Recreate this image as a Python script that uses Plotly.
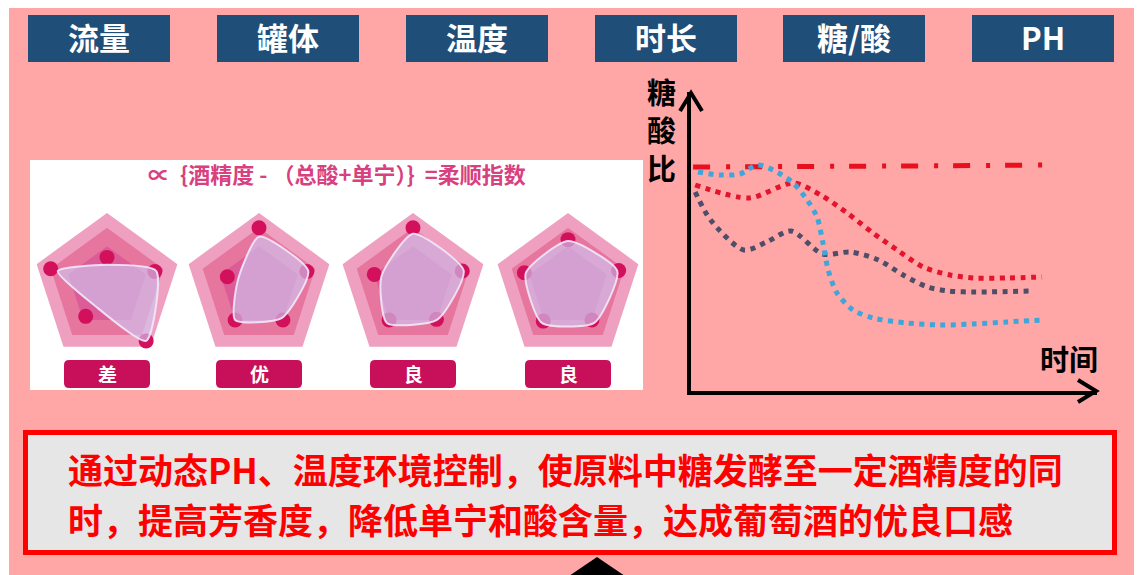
import plotly.graph_objects as go

# page body has an 8px margin: figure covers page pixels 8..1142 x 8..575
OFF = 8
W, H = 1142 - OFF, 575 - OFF
FONT = "Noto Sans CJK SC"

# ---------------- data ----------------
top_labels = ["流量", "罐体", "温度", "时长", "糖/酸", "PH"]
formula_text = "∝  {酒精度 - （总酸+单宁）}  =柔顺指数"
radar_axes = ["v1", "v2", "v3", "v4", "v5"]
radar_grades = ["差", "优", "良", "良"]
radar_overlay = [
    [0.30, 0.70, 0.90, 0.30, 0.70],
    [0.68, 0.70, 0.52, 0.55, 0.30],
    [0.72, 0.72, 0.55, 0.60, 0.45],
    [0.62, 0.70, 0.60, 0.60, 0.60],
]
radar_dots = [
    [0.40, 0.68, 0.90, 0.49, 0.80],
    [0.80, 0.68, 0.55, 0.55, 0.45],
    [0.80, 0.70, 0.54, 0.55, 0.55],
    [0.64, 0.72, 0.55, 0.57, 0.62],
]
ring_levels = [0.80, 0.55]

t_dashdot = [0, 2, 4, 6, 8, 10]
ratio_dashdot = [11.2, 11.2, 11.22, 11.25, 11.27, 11.3]

t_red = [0.06, 1.6, 2.86, 3.69, 4.4, 5.14, 5.83, 6.57, 7.34, 8.0, 8.97, 9.97]
ratio_red = [10.3, 9.65, 10.4, 9.75, 8.9, 7.9, 7.05, 6.2, 5.8, 5.65, 5.65, 5.7]

t_dark = [0.06, 0.5, 1.45, 2.1, 2.8, 3.7, 4.5, 5.3, 6.0, 6.7, 7.3, 8.0, 9.7]
ratio_dark = [9.95, 8.55, 7.05, 7.45, 8.0, 6.85, 6.95, 6.55, 5.8, 5.2, 5.0, 4.95, 5.0]

t_blue = [0.14, 0.77, 1.34, 1.83, 2.29, 2.86, 3.26, 3.54, 3.71, 3.86, 4.11, 4.57, 5.14, 6.11, 7.06, 8.0, 8.97, 9.97]
ratio_blue = [10.95, 10.8, 10.85, 11.3, 11.05, 10.4, 9.55, 8.7, 7.4, 6.05, 4.9, 4.05, 3.65, 3.4, 3.3, 3.35, 3.45, 3.55]

y_title_chars = ["糖", "酸", "比"]
x_title = "时间"
bottom_line1 = "通过动态PH、温度环境控制，使原料中糖发酵至一定酒精度的同"
bottom_line2 = "时，提高芳香度，降低单宁和酸含量，达成葡萄酒的优良口感"


def X(px):
    return (px - OFF) / W


def Y(py):
    return 1 - (py - OFF) / H


fig = go.Figure()
shapes = []
annotations = []

# background
shapes.append(dict(type="rect", xref="paper", yref="paper", x0=X(9), x1=1, y0=0, y1=1,
                   fillcolor="#FFA6A6", line=dict(width=0), layer="below"))

# top boxes
box_x0 = [28, 217, 406, 595, 783, 972]
for bx, lab in zip(box_x0, top_labels):
    shapes.append(dict(type="rect", xref="paper", yref="paper", x0=X(bx), x1=X(bx + 142),
                       y0=Y(62), y1=Y(15), fillcolor="#1F4E79", line=dict(width=0), layer="below"))
    annotations.append(dict(x=X(bx + 71), y=Y(37), xref="paper", yref="paper", text="<b>%s</b>" % lab,
                            showarrow=False, font=dict(family=FONT, size=31, color="white"),
                            xanchor="center", yanchor="middle"))

# white radar panel
shapes.append(dict(type="rect", xref="paper", yref="paper", x0=X(30), x1=X(643), y0=Y(390), y1=Y(160),
                   fillcolor="white", line=dict(width=0), layer="below"))

annotations.append(dict(x=X(337), y=Y(173), xref="paper", yref="paper", text="<b>%s</b>" % formula_text,
                        showarrow=False, font=dict(family=FONT, size=22, color="#D8407F"),
                        xanchor="center", yanchor="middle"))

# radars
centers = [107, 259, 413, 568]
R = 74
CY = 287
theta_closed = radar_axes + [radar_axes[0]]
for i, cx in enumerate(centers):
    sub = "polar" if i == 0 else "polar%d" % (i + 1)
    fig.update_layout(**{sub: dict(
        domain=dict(x=[X(cx - R), X(cx + R)], y=[Y(CY + R), Y(CY - R)]),
        bgcolor="#EFA0C0", gridshape="linear",
        radialaxis=dict(visible=False, range=[0, 1]),
        angularaxis=dict(visible=True, showline=False, showticklabels=False, ticks="",
                         showgrid=False, rotation=90, direction="clockwise",
                         categoryorder="array", categoryarray=radar_axes),
    )})
    for lvl, col in zip(ring_levels, ["#E7769F", "#DB5C96"]):
        fig.add_trace(go.Scatterpolar(r=[lvl] * 6, theta=theta_closed, fill="toself", fillcolor=col,
                                      mode="lines", line=dict(width=0, color=col), subplot=sub,
                                      showlegend=False, hoverinfo="skip"))
    fig.add_trace(go.Scatterpolar(r=radar_dots[i], theta=radar_axes, mode="markers",
                                  marker=dict(size=15, color="#D3105C"), subplot=sub,
                                  showlegend=False, hoverinfo="skip"))
    ov = radar_overlay[i] + [radar_overlay[i][0]]
    fig.add_trace(go.Scatterpolar(r=ov, theta=theta_closed, fill="toself",
                                  fillcolor="rgba(208,196,240,0.66)", mode="lines",
                                  line=dict(width=2, color="rgba(242,232,250,0.9)", shape="spline", smoothing=0.6),
                                  subplot=sub, showlegend=False, hoverinfo="skip"))
    # grade label
    lx0, lx1, ly0, ly1, rr = cx - 43, cx + 43, 360, 388, 5
    path = ("M %f %f L %f %f Q %f %f %f %f L %f %f Q %f %f %f %f L %f %f Q %f %f %f %f L %f %f Q %f %f %f %f Z" % (
        X(lx0 + rr), Y(ly0), X(lx1 - rr), Y(ly0), X(lx1), Y(ly0), X(lx1), Y(ly0 + rr),
        X(lx1), Y(ly1 - rr), X(lx1), Y(ly1), X(lx1 - rr), Y(ly1),
        X(lx0 + rr), Y(ly1), X(lx0), Y(ly1), X(lx0), Y(ly1 - rr),
        X(lx0), Y(ly0 + rr), X(lx0), Y(ly0), X(lx0 + rr), Y(ly0)))
    shapes.append(dict(type="path", xref="paper", yref="paper", path=path,
                       fillcolor="#C8105A", line=dict(width=0), layer="above"))
    annotations.append(dict(x=X(cx), y=Y(373), xref="paper", yref="paper", text="<b>%s</b>" % radar_grades[i],
                            showarrow=False, font=dict(family=FONT, size=19, color="white"),
                            xanchor="center", yanchor="middle"))

# line chart
fig.add_trace(go.Scatter(x=t_dashdot, y=ratio_dashdot, mode="lines",
                         line=dict(color="#E8101E", width=5, dash="17px,16px,4px,15px"),
                         showlegend=False, hoverinfo="skip"))
fig.add_trace(go.Scatter(x=t_red, y=ratio_red, mode="lines",
                         line=dict(color="#E3142C", width=5, dash="5px,5.5px", shape="spline", smoothing=0.8),
                         showlegend=False, hoverinfo="skip"))
fig.add_trace(go.Scatter(x=t_dark, y=ratio_dark, mode="lines",
                         line=dict(color="#4E4E68", width=5, dash="5px,5.5px", shape="spline", smoothing=0.8),
                         showlegend=False, hoverinfo="skip"))
fig.add_trace(go.Scatter(x=t_blue, y=ratio_blue, mode="lines",
                         line=dict(color="#3DA6DA", width=5, dash="5px,5.5px", shape="spline", smoothing=0.8),
                         showlegend=False, hoverinfo="skip"))

fig.update_layout(
    xaxis=dict(domain=[X(691), X(1097)], range=[-0.06, 11.54], showgrid=False, zeroline=False,
               showticklabels=False, ticks="", showline=True, linecolor="black", linewidth=4),
    yaxis=dict(domain=[Y(391), Y(92)], range=[0, 14.95], showgrid=False, zeroline=False,
               showticklabels=False, ticks="", showline=True, linecolor="black", linewidth=4),
)
# arrowheads
shapes.append(dict(type="path", xref="paper", yref="paper",
                   path="M %f %f L %f %f L %f %f" % (X(680), Y(111), X(691), Y(93), X(702), Y(111)),
                   line=dict(color="black", width=4)))
shapes.append(dict(type="path", xref="paper", yref="paper",
                   path="M %f %f L %f %f L %f %f" % (X(1078), Y(380), X(1096), Y(391), X(1078), Y(402)),
                   line=dict(color="black", width=4)))
for ch, cyy in zip(y_title_chars, [91, 129, 167]):
    annotations.append(dict(x=X(661), y=Y(cyy), xref="paper", yref="paper", text="<b>%s</b>" % ch,
                            showarrow=False, font=dict(family=FONT, size=29, color="black"),
                            xanchor="center", yanchor="middle"))
annotations.append(dict(x=X(1069), y=Y(358), xref="paper", yref="paper", text="<b>%s</b>" % x_title,
                        showarrow=False, font=dict(family=FONT, size=29, color="black"),
                        xanchor="center", yanchor="middle"))

# bottom text box
shapes.append(dict(type="rect", xref="paper", yref="paper", x0=X(25.5), x1=X(1114.5), y0=Y(552.5), y1=Y(432.5),
                   fillcolor="#E6E6E6", line=dict(color="#FF0000", width=5), layer="below"))
annotations.append(dict(x=X(66), y=Y(468), xref="paper", yref="paper", text="<b>%s</b>" % bottom_line1,
                        showarrow=False, font=dict(family=FONT, size=35, color="#FF0000"),
                        xanchor="left", yanchor="middle"))
annotations.append(dict(x=X(66), y=Y(518), xref="paper", yref="paper", text="<b>%s</b>" % bottom_line2,
                        showarrow=False, font=dict(family=FONT, size=35, color="#FF0000"),
                        xanchor="left", yanchor="middle"))
# black triangle
shapes.append(dict(type="path", xref="paper", yref="paper",
                   path="M %f %f L %f %f L %f %f Z" % (X(569), Y(576), X(597), Y(557), X(625), Y(576)),
                   fillcolor="black", line=dict(width=0)))

fig.update_layout(width=W, height=H, margin=dict(l=0, r=0, t=0, b=0),
                  paper_bgcolor="white", plot_bgcolor="rgba(0,0,0,0)",
                  shapes=shapes, annotations=annotations, showlegend=False)

fig.write_html("out.html")
